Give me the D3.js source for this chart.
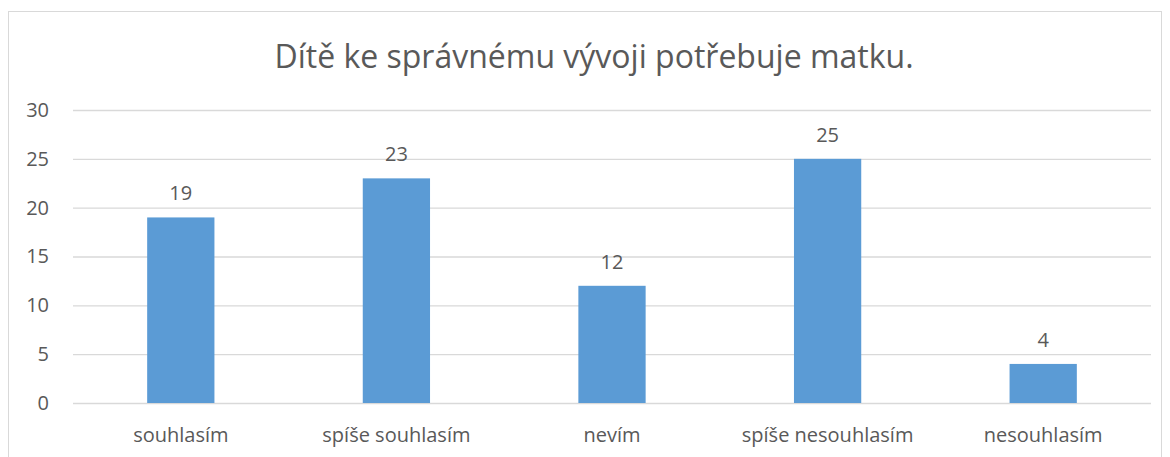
<!DOCTYPE html>
<html>
<head>
<meta charset="utf-8">
<script src="https://cdn.jsdelivr.net/npm/d3@7"></script>
<style>
  body { margin: 0; background: #fff; }
  text { font-family: "Open Sans", "Noto Sans", sans-serif; fill: #595959; }
</style>
</head>
<body>
<div id="root"></div>
<script>
// data
const categories = ['souhlasím', 'spíše souhlasím', 'nevím', 'spíše nesouhlasím', 'nesouhlasím'];
const values = [19, 23, 12, 25, 4];
const yTicks = [0, 5, 10, 15, 20, 25, 30];
const title = 'Dítě ke správnému vývoji potřebuje matku.';

let width = 1170, height = 457;
let margin = {top: 110, right: 19, bottom: 54, left: 73};
const font = '"Open Sans", "Noto Sans", sans-serif';

var svg = d3.select('#root')
  .append('svg')
  .attr('width', width)
  .attr('height', height);

// chart border
svg.append('rect')
  .attr('x', 8.5).attr('y', 11.5)
  .attr('width', 1153).attr('height', 460)
  .attr('fill', 'none')
  .attr('stroke', '#d9d9d9');

var xScale = d3.scaleBand()
  .domain(categories)
  .range([margin.left, width - margin.right])
  .paddingInner(0.688)
  .paddingOuter(0.344);

var yScale = d3.scaleLinear()
  .domain([0, 30])
  .range([height - margin.bottom, margin.top]);

// grid lines + y labels
var yAxis = d3.axisLeft(yScale)
  .tickValues(yTicks)
  .tickSize(-(width - margin.right - margin.left))
  .tickPadding(24)
  .tickFormat(d => d);

svg.append('g')
  .attr('transform', 'translate(' + [margin.left, 0] + ')')
  .call(yAxis)
  .call(g => g.select('.domain').remove())
  .call(g => g.selectAll('line').attr('stroke', '#d9d9d9').attr('stroke-width', 1.3))
  .call(g => g.selectAll('text').attr('font-size', '20px').attr('fill', '#595959')
    .style('font-family', font));

// x labels
var xAxis = d3.axisBottom(xScale).tickSize(0);
svg.append('g')
  .attr('transform', 'translate(' + [0, height - margin.bottom] + ')')
  .call(xAxis)
  .call(g => g.select('.domain').remove())
  .call(g => g.selectAll('text')
    .attr('y', 39).attr('dy', 0)
    .attr('font-size', '20px').attr('fill', '#595959')
    .style('font-family', font));

// bars
var data = categories.map((c, i) => ({cat: c, val: values[i]}));
svg.append('g').selectAll('rect')
  .data(data)
  .enter()
  .append('rect')
  .attr('x', d => xScale(d.cat))
  .attr('y', d => yScale(d.val))
  .attr('width', xScale.bandwidth())
  .attr('height', d => yScale(0) - yScale(d.val))
  .attr('fill', '#5b9bd5');

// value labels
svg.append('g').selectAll('text')
  .data(data)
  .enter()
  .append('text')
  .attr('x', d => xScale(d.cat) + xScale.bandwidth() / 2)
  .attr('y', d => yScale(d.val) - 17)
  .attr('text-anchor', 'middle')
  .attr('font-size', '20px')
  .text(d => d.val);

// title
svg.append('text')
  .attr('x', 594)
  .attr('y', 68)
  .attr('text-anchor', 'middle')
  .attr('font-size', '32px')
  .text(title);
</script>
</body>
</html>
